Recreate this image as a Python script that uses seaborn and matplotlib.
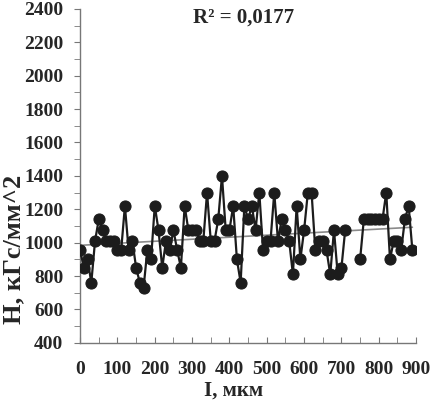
import numpy as np
import pandas as pd
import seaborn as sns
import matplotlib.pyplot as plt
from matplotlib.ticker import MultipleLocator

# Distance along the sample, µm (step 10)
distance = list(range(0, 900, 10))

# Microhardness H, kgf/mm^2 (NaN = missing measurement)
hardness = [
    955, 850, 900, 760, 1010, 1140, 1075, 1010, 1010, 1010,
    955, 955, 1220, 955, 1010, 850, 760, 730, 955, 900,
    1220, 1075, 850, 1010, 955, 1075, 955, 850, 1220, 1075,
    1075, 1075, 1010, 1010, 1300, 1010, 1010, 1140, 1400, 1075,
    1075, 1220, 900, 760, 1220, 1140, 1220, 1075, 1300, 955,
    1010, 1010, 1300, 1010, 1140, 1075, 1010, 810, 1220, 900,
    1075, 1300, 1300, 955, 1010, 1010, 955, 810, 1075, 810,
    850, 1075, np.nan, np.nan, np.nan, 900, 1140, 1140, 1140, 1140,
    1140, 1140, 1300, 900, 1010, 1010, 955, 1140, 1220, 955,
]

r2_label = "R² = 0,0177"

df = pd.DataFrame({"I": distance, "H": hardness})
# split into continuous pieces so the gap is kept
df["segment"] = df["H"].isna().cumsum()
df_clean = df.dropna()

sns.set_style("ticks")
plt.rcParams["font.family"] = ["Liberation Serif", "DejaVu Serif"]
plt.rcParams["font.weight"] = "bold"

fig = plt.figure(figsize=(4.33, 4.01), dpi=100)
ax = fig.add_axes([0.185, 0.145, 0.776, 0.833])

sns.lineplot(data=df_clean, x="I", y="H", units="segment", estimator=None,
             color="#1c1c1c", lw=1.6, marker="o", markersize=8,
             markeredgecolor="#1c1c1c", ax=ax, zorder=3)
sns.regplot(data=df_clean, x="I", y="H", scatter=False, ci=None,
            line_kws={"color": "#8a8a8a", "lw": 1.2}, ax=ax)

ax.set_xlim(0, 900)
ax.set_ylim(400, 2400)
ax.xaxis.set_major_locator(MultipleLocator(100))
ax.xaxis.set_minor_locator(MultipleLocator(50))
ax.yaxis.set_major_locator(MultipleLocator(200))
ax.yaxis.set_minor_locator(MultipleLocator(100))
ax.tick_params(axis="y", which="both", direction="out", length=4, color="#777777",
               labelsize=14, pad=8)
ax.tick_params(axis="x", which="both", direction="in", length=4, color="#777777",
               labelsize=14, pad=13)
for lab in ax.get_xticklabels() + ax.get_yticklabels():
    lab.set_fontweight("bold")

sns.despine(ax=ax)
for s in ["left", "bottom"]:
    ax.spines[s].set_color("#777777")
    ax.spines[s].set_linewidth(1.0)

ax.set_xlabel("I, мкм", fontsize=15, fontweight="bold")
ax.set_ylabel("H, кГс/мм^2", fontsize=19, fontweight="bold")
ax.xaxis.set_label_coords(0.458, -0.112)
ax.yaxis.set_label_coords(-0.163, 0.28)
ax.text(0.485, 0.975, r2_label, transform=ax.transAxes, ha="center", va="center",
        fontsize=15, fontweight="bold")

fig.savefig("out.png", dpi=100)
